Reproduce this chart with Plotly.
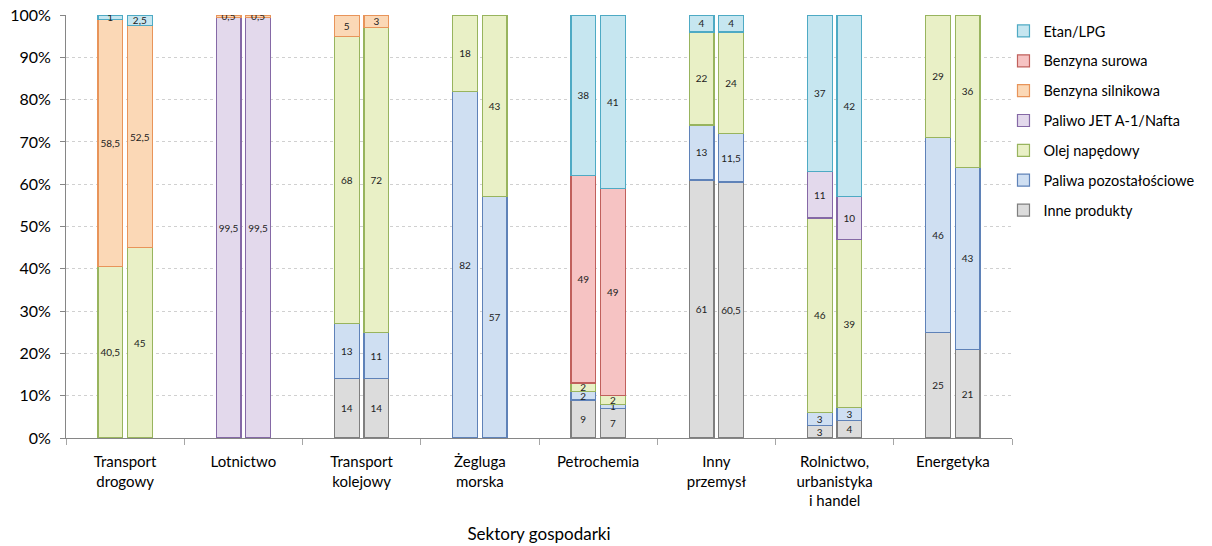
import plotly.graph_objects as go

# Sectors of the economy (x categories)
sectors = [
    "Transport<br>drogowy",
    "Lotnictwo",
    "Transport<br>kolejowy",
    "Żegluga<br>morska",
    "Petrochemia",
    "Inny<br>przemysł",
    "Rolnictwo,<br>urbanistyka<br>i handel",
    "Energetyka",
]

# Shares (%) per product, two bars per sector: first bar, second bar
inne_1 = [None, None, 14, None, 9, 61, 3, 25]
inne_2 = [None, None, 14, None, 7, 60.5, 4, 21]
pozost_1 = [None, None, 13, 82, 2, 13, 3, 46]
pozost_2 = [None, None, 11, 57, 1, 11.5, 3, 43]
olej_1 = [40.5, None, 68, 18, 2, 22, 46, 29]
olej_2 = [45, None, 72, 43, 2, 24, 39, 36]
jet_1 = [None, 99.5, None, None, None, None, 11, None]
jet_2 = [None, 99.5, None, None, None, None, 10, None]
silnik_1 = [58.5, 0.5, 5, None, None, None, None, None]
silnik_2 = [52.5, 0.5, 3, None, None, None, None, None]
surowa_1 = [None, None, None, None, 49, None, None, None]
surowa_2 = [None, None, None, None, 49, None, None, None]
etan_1 = [1, None, None, None, 38, 4, 37, None]
etan_2 = [2.5, None, None, None, 41, 4, 42, None]

# Stacking order, bottom to top
series = [
    ("Inne produkty", inne_1, inne_2, "#dcdcdc", "#7f7f7f"),
    ("Paliwa pozostałościowe", pozost_1, pozost_2, "#cfdff2", "#5f82b8"),
    ("Olej napędowy", olej_1, olej_2, "#e9f0c6", "#98b45e"),
    ("Paliwo JET A-1/Nafta", jet_1, jet_2, "#e3d9ec", "#8569a6"),
    ("Benzyna silnikowa", silnik_1, silnik_2, "#fbd8b6", "#e8945a"),
    ("Benzyna surowa", surowa_1, surowa_2, "#f6c3c3", "#c0605c"),
    ("Etan/LPG", etan_1, etan_2, "#c6e6f0", "#4eaac4"),
]

FONT = "Lato, 'Open Sans', sans-serif"
BAR_W = 0.21
SHIFT = 0.125
idx = list(range(len(sectors)))


def label(v):
    return "" if v is None else f"{v:g}".replace(".", ",")


fig = go.Figure()
for k, (name, first, second, fill, edge) in enumerate(series):
    x = [i - SHIFT for i in idx] + [i + SHIFT for i in idx]
    y = first + second
    fig.add_trace(go.Bar(
        name=name,
        legendgroup=name,
        legendrank=len(series) - k,  # top of the stack listed first
        x=x,
        y=y,
        width=BAR_W,
        text=[label(v) for v in y],
        textposition="inside",
        insidetextanchor="middle",
        textangle=0,
        textfont=dict(family=FONT, size=10, color="#222222"),
        marker=dict(color=fill, line=dict(color=edge, width=1.2)),
        hoverinfo="name+y",
    ))

fig.update_layout(
    width=1212,
    height=546,
    barmode="stack",
    barnorm="percent",
    plot_bgcolor="white",
    paper_bgcolor="white",
    margin=dict(l=66, r=193, t=15, b=108),
    font=dict(family=FONT, size=15, color="#000000"),
    uniformtext=dict(minsize=10, mode="show"),
    legend=dict(
        x=0.991, xanchor="left", y=1.0, yanchor="top",
        traceorder="grouped",
        tracegroupgap=8,
        font=dict(family=FONT, size=14.5, color="#000000"),
        bgcolor="rgba(0,0,0,0)",
    ),
    showlegend=True,
)

fig.update_xaxes(
    range=[-0.5, len(sectors) - 0.5],
    tickmode="array",
    tickvals=idx,
    ticktext=sectors,
    ticks="",
    ticklabelstandoff=10,
    showgrid=False,
    zeroline=False,
    showline=True,
    linecolor="#868686",
    linewidth=1,
    minor=dict(
        tickmode="array",
        tickvals=[i - 0.5 for i in range(len(sectors) + 1)],
        ticks="outside",
        ticklen=6,
        tickcolor="#a6a6a6",
        showgrid=False,
    ),
    title=dict(text="Sektory gospodarki", font=dict(family=FONT, size=17), standoff=20),
    automargin=False,
    fixedrange=True,
)

fig.update_yaxes(
    range=[0, 100],
    dtick=10,
    ticksuffix="%",
    ticks="outside",
    ticklen=5,
    tickcolor="#868686",
    tickfont=dict(family=FONT, size=16),
    ticklabelstandoff=6,
    showline=True,
    linecolor="#868686",
    linewidth=1,
    showgrid=True,
    gridcolor="#d0d0d0",
    griddash="dot",
    gridwidth=1,
    zeroline=False,
    automargin=False,
    fixedrange=True,
)

fig.write_html("out.html")
